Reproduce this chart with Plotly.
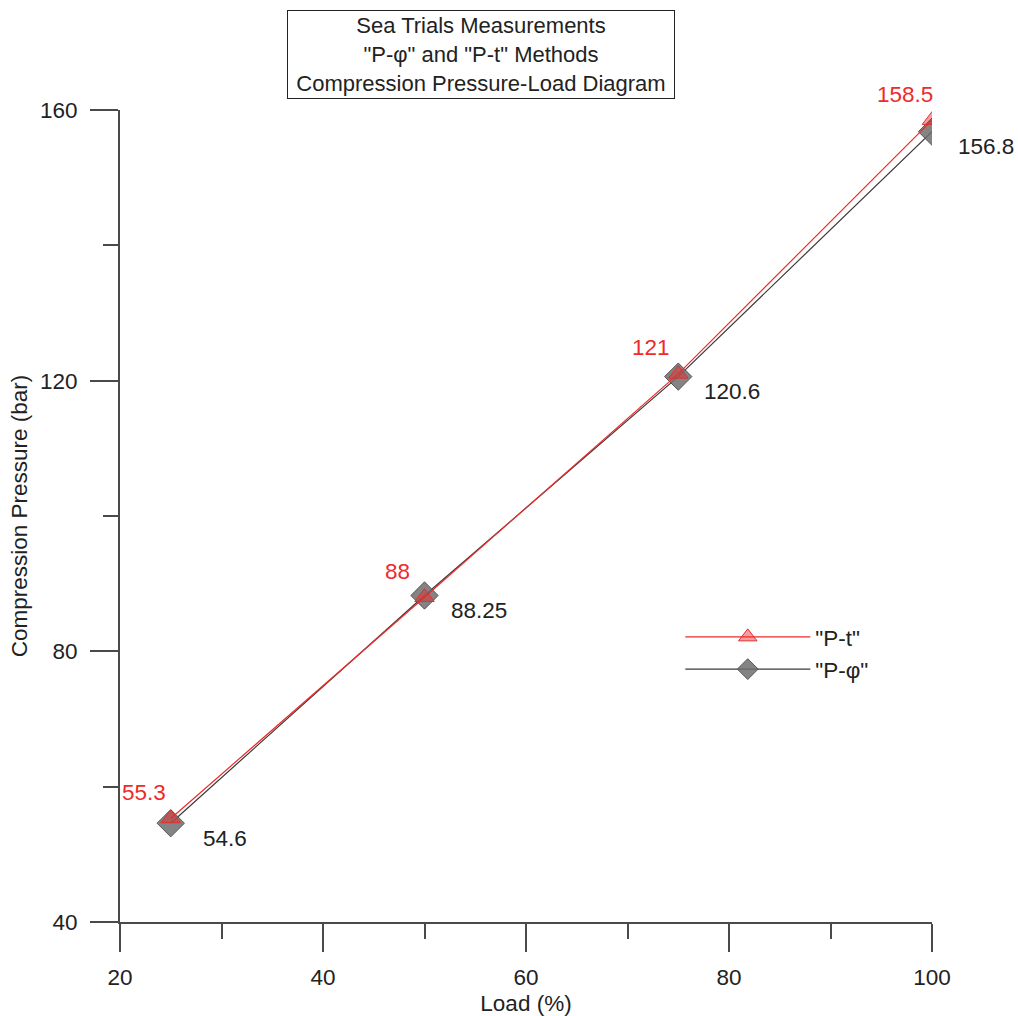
import plotly.graph_objects as go

# Engine load points (%)
load = [25, 50, 75, 100]
# Compression pressure (bar) by method
p_t = [55.3, 88, 121, 158.5]
p_phi = [54.6, 88.25, 120.6, 156.8]
# Labels printed beside each point
p_t_labels = ["55.3", "88", "121", "158.5"]
p_phi_labels = ["54.6", "88.25", "120.6", "156.8"]

FONT = "Liberation Sans, Arial, sans-serif"
FS = 22.5
AXIS_COLOR = "#4a4a4a"

fig = go.Figure()

fig.add_trace(go.Scatter(
    x=load, y=p_phi, mode="lines+markers", name='"P-φ"', legendrank=2,
    line=dict(color="#3a3a3a", width=1.2),
    marker=dict(symbol="diamond", size=21, color="rgba(110,110,110,0.85)",
                line=dict(color="#555555", width=1)),
))
fig.add_trace(go.Scatter(
    x=load, y=p_t, mode="lines+markers", name='"P-t"', legendrank=1,
    line=dict(color="#ee2a2a", width=1.2),
    marker=dict(symbol="triangle-up", size=17, color="rgba(235,40,40,0.45)",
                line=dict(color="#e03030", width=1)),
))

annotations = []
for xv, yv, txt in zip(load, p_t, p_t_labels):
    annotations.append(dict(x=xv, y=yv, text=txt, showarrow=False,
                            xanchor="center", yanchor="middle",
                            xshift=-27, yshift=26,
                            font=dict(family=FONT, size=FS, color="#ee2a2a")))
for xv, yv, txt in zip(load, p_phi, p_phi_labels):
    annotations.append(dict(x=xv, y=yv, text=txt, showarrow=False,
                            xanchor="center", yanchor="middle",
                            xshift=54, yshift=-15,
                            font=dict(family=FONT, size=FS, color="#222222")))

# Boxed chart title
annotations.append(dict(
    xref="paper", yref="paper", x=0.444, y=1.1232,
    xanchor="center", yanchor="top", showarrow=False,
    text='Sea Trials Measurements<br>"P-φ" and "P-t" Methods<br>Compression Pressure-Load Diagram',
    font=dict(family=FONT, size=22, color="#222222"),
    width=384, height=85, borderpad=1,
    bordercolor="#222222", borderwidth=1, bgcolor="white",
))

fig.update_layout(
    width=1018, height=1016,
    margin=dict(l=120, r=86, t=110, b=94, autoexpand=False),
    paper_bgcolor="white", plot_bgcolor="white",
    font=dict(family=FONT, size=FS, color="#222222"),
    annotations=annotations,
    showlegend=True,
    legend=dict(x=0.69, y=0.331, xanchor="left", yanchor="middle",
                bgcolor="rgba(0,0,0,0)", font=dict(family=FONT, size=FS),
                itemwidth=125, tracegroupgap=0),
)

fig.update_xaxes(
    range=[20, 100], showgrid=False, zeroline=False, automargin=False,
    showline=True, linecolor=AXIS_COLOR, linewidth=2,
    tickmode="linear", tick0=20, dtick=20,
    ticks="outside", ticklen=28, tickwidth=2, tickcolor=AXIS_COLOR,
    ticklabelstandoff=6,
    minor=dict(ticks="outside", ticklen=15, tickwidth=2, tickcolor=AXIS_COLOR,
               tick0=30, dtick=20),
    title=dict(text="Load (%)", standoff=8, font=dict(size=FS)),
)
fig.update_yaxes(
    range=[40, 160], showgrid=False, zeroline=False, automargin=False,
    showline=True, linecolor=AXIS_COLOR, linewidth=2,
    tickmode="linear", tick0=40, dtick=40,
    ticks="outside", ticklen=28, tickwidth=2, tickcolor=AXIS_COLOR,
    ticklabelstandoff=8,
    minor=dict(ticks="outside", ticklen=15, tickwidth=2, tickcolor=AXIS_COLOR,
               tick0=60, dtick=40),
    title=dict(text="Compression Pressure (bar)", standoff=6, font=dict(size=FS)),
)

fig.write_html("out.html")
